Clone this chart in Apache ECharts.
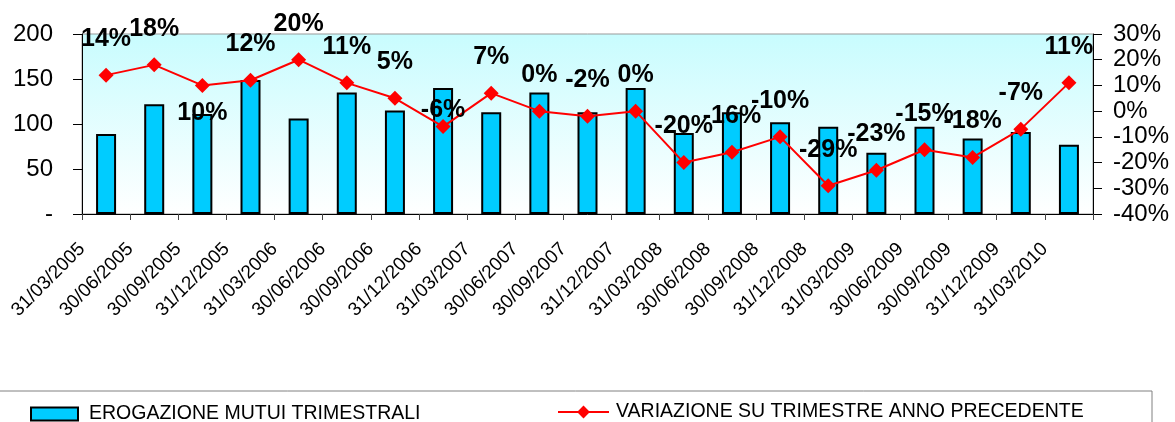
<!DOCTYPE html>
<html>
<head>
<meta charset="utf-8">
<script src="https://cdn.jsdelivr.net/npm/echarts@6/dist/echarts.min.js"></script>
<style>
  html, body { margin: 0; padding: 0; background: #fff; }
  #chart { width: 1175px; height: 422px; }
</style>
</head>
<body>
<div id="chart"></div>
<script>
// quarters
const dates = [
  '31/03/2005', '30/06/2005', '30/09/2005', '31/12/2005',
  '31/03/2006', '30/06/2006', '30/09/2006', '31/12/2006',
  '31/03/2007', '30/06/2007', '30/09/2007', '31/12/2007',
  '31/03/2008', '30/06/2008', '30/09/2008', '31/12/2008',
  '31/03/2009', '30/06/2009', '30/09/2009', '31/12/2009',
  '31/03/2010'
]
// erogazione mutui trimestrali (left axis)
const erogazione = [89, 122, 111, 149, 106, 135, 115, 140, 113, 135, 113, 140, 90, 113, 102, 97, 68, 97, 84, 91, 77]
// variazione % su trimestre anno precedente (right axis)
const variazione = [14, 18, 10, 12, 20, 11, 5, -6, 7, 0, -2, 0, -20, -16, -10, -29, -23, -15, -18, -7, 11]

const leftTicks = [0, 50, 100, 150, 200]
const rightTicks = [-40, -30, -20, -10, 0, 10, 20, 30]

const FONT = 'Liberation Sans, Arial, sans-serif'

const chart = echarts.init(document.getElementById('chart'))

// line labels: most sit above the point, a couple were moved in the original
const lineData = variazione.map((v, i) => {
  if (i === 2) return { value: v, label: { position: 'bottom', distance: 8 } }
  if (i === 7) return { value: v, label: { distance: -4 } }
  return v
})

chart.setOption({
  backgroundColor: '#fff',
  animation: false,
  grid: {
    left: 82,
    right: 82,
    top: 34,
    bottom: 208,
    show: true,
    borderColor: '#999',
    borderWidth: 1,
    backgroundColor: {
      type: 'linear', x: 0, y: 0, x2: 0, y2: 1,
      colorStops: [
        { offset: 0, color: '#c8fcfe' },
        { offset: 1, color: '#ffffff' }
      ]
    }
  },
  legend: [{
    left: 30,
    top: 404,
    padding: 0,
    icon: 'rect',
    itemWidth: 47,
    itemHeight: 13,
    textStyle: { fontFamily: FONT, fontSize: 19.5, color: '#000', padding: [0, 0, 0, 6] },
    data: ['EROGAZIONE MUTUI TRIMESTRALI']
  }, {
    left: 557,
    top: 402,
    padding: 0,
    itemWidth: 51,
    itemHeight: 16,
    textStyle: { fontFamily: FONT, fontSize: 19.5, color: '#000', padding: [0, 0, 0, 2] },
    data: ['VARIAZIONE SU TRIMESTRE ANNO PRECEDENTE']
  }],
  graphic: [{
    type: 'rect',
    shape: { x: -2, y: 391, width: 1154, height: 40 },
    style: { fill: 'none', stroke: '#808080', lineWidth: 1 },
    silent: true
  }],
  xAxis: {
    type: 'category',
    data: dates,
    boundaryGap: true,
    axisLine: { lineStyle: { color: '#000', width: 1 } },
    axisTick: { show: true, alignWithLabel: false, length: 6, lineStyle: { color: '#444' } },
    axisLabel: {
      rotate: 45,
      interval: 0,
      margin: 8,
      padding: [0, 34, 0, 0],
      fontFamily: FONT,
      fontSize: 19,
      color: '#000'
    }
  },
  yAxis: [{
    type: 'value',
    min: leftTicks[0],
    max: leftTicks[leftTicks.length - 1],
    interval: 50,
    axisLine: { show: true, lineStyle: { color: '#000' } },
    axisTick: { show: true, inside: false, length: 9, lineStyle: { color: '#000' } },
    splitLine: { show: false },
    axisLabel: {
      margin: 29,
      fontFamily: FONT,
      fontSize: 24,
      color: '#000',
      formatter: v => (v === 0 ? '-' : v)
    }
  }, {
    type: 'value',
    position: 'right',
    min: rightTicks[0],
    max: rightTicks[rightTicks.length - 1],
    interval: 10,
    axisLine: { show: true, lineStyle: { color: '#000' } },
    axisTick: { show: true, inside: false, length: 9, lineStyle: { color: '#000' } },
    splitLine: { show: false },
    axisLabel: {
      margin: 20,
      fontFamily: FONT,
      fontSize: 24,
      color: '#000',
      formatter: v => v + '%'
    }
  }],
  series: [{
    name: 'EROGAZIONE MUTUI TRIMESTRALI',
    type: 'bar',
    yAxisIndex: 0,
    barWidth: 20,
    data: erogazione,
    itemStyle: {
      color: '#00ccff',
      borderColor: '#000',
      borderWidth: 2
    }
  }, {
    name: 'VARIAZIONE SU TRIMESTRE ANNO PRECEDENTE',
    type: 'line',
    yAxisIndex: 1,
    data: lineData,
    symbol: 'diamond',
    symbolSize: 15,
    lineStyle: { color: '#ff0000', width: 2 },
    itemStyle: { color: '#ff0000' },
    z: 5,
    label: {
      show: true,
      position: 'top',
      distance: 16,
      fontFamily: FONT,
      fontSize: 25,
      fontWeight: 'bold',
      color: '#000',
      formatter: p => p.value + '%'
    }
  }]
})
</script>
</body>
</html>
